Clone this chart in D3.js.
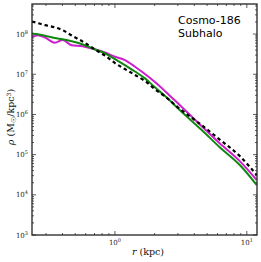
<!DOCTYPE html>
<html><head><meta charset="utf-8">
<script src="https://cdn.jsdelivr.net/npm/d3@7"></script>
<style>body{margin:0;background:#fff}svg{display:block}</style>
</head><body>
<script>
const radius = [0.235,0.26,0.295,0.35,0.40,0.47,0.57,0.70,0.84,1.0,1.19,1.42,1.69,2.0,2.4,3.1,4.55,6.2,8.85,11.9];
const rhoGreen = [1.04e8,9.9e7,9.1e7,8.0e7,7.4e7,6.6e7,5.5e7,4.2e7,3.3e7,2.39e7,1.69e7,1.17e7,7.9e6,4.8e6,2.87e6,1.29e6,4.1e5,1.55e5,5.5e4,1.75e4];
const rhoMagenta = [8.4e7,9.4e7,8.2e7,6.1e7,7.1e7,5.3e7,5.0e7,4.2e7,3.47e7,2.72e7,2.25e7,1.54e7,1.01e7,6.5e6,3.8e6,1.71e6,5.1e5,1.94e5,6.9e4,2.33e4];
const rhoDashed = [2.05e8,1.88e8,1.67e8,1.48e8,1.26e8,9.2e7,6.5e7,4.2e7,2.92e7,1.90e7,1.35e7,9.6e6,6.8e6,4.3e6,2.8e6,1.38e6,5.4e5,2.4e5,9.2e4,3.1e4];
const xTickExps = [0,1];
const yTickExps = [3,4,5,6,7,8];
const labelText = ["Cosmo-186","Subhalo"];

const W=261,H=262;
const L=32,R=257,T=4,B=235;
const svg=d3.select("body").append("svg").attr("width",W).attr("height",H);
const x=d3.scaleLog().domain([0.235,11.95]).range([L,R]);
const y=d3.scaleLog().domain([1e3,5.6e8]).range([B,T]);

const g=svg.append("g");
svg.append("clipPath").attr("id","c").append("rect").attr("x",L).attr("y",T).attr("width",R-L).attr("height",B-T);

// ticks
const xMajor=xTickExps.map(e=>Math.pow(10,e));
const xMinor=[];
for(let e=-1;e<=1;e++)for(let m=2;m<=9;m++){const v=m*Math.pow(10,e);if(v>=0.235&&v<=11.95)xMinor.push(v);}
const yMajor=yTickExps.map(e=>Math.pow(10,e));
const yMinor=[];
for(let e=3;e<=8;e++)for(let m=2;m<=9;m++){const v=m*Math.pow(10,e);if(v<=5.6e8)yMinor.push(v);}
const tk=g.append("g").attr("stroke","#333").attr("stroke-width",0.8);
function xt(v,len){tk.append("line").attr("x1",x(v)).attr("x2",x(v)).attr("y1",B).attr("y2",B-len);
  tk.append("line").attr("x1",x(v)).attr("x2",x(v)).attr("y1",T).attr("y2",T+len);}
function yt(v,len){tk.append("line").attr("y1",y(v)).attr("y2",y(v)).attr("x1",L).attr("x2",L+len);
  tk.append("line").attr("y1",y(v)).attr("y2",y(v)).attr("x1",R).attr("x2",R-len);}
xMajor.forEach(v=>xt(v,4)); xMinor.forEach(v=>xt(v,2));
yMajor.forEach(v=>yt(v,4)); yMinor.forEach(v=>yt(v,2));

// tick labels
const lab=g.append("g").attr("font-family","'DejaVu Serif',serif").attr("fill","#222");
xTickExps.forEach(e=>{
  const t=lab.append("text").attr("x",x(Math.pow(10,e))).attr("y",B+10).attr("text-anchor","middle").attr("font-size",7);
  t.append("tspan").text("10");
  t.append("tspan").attr("dy",-3).attr("font-size",5).text(e);
});
yTickExps.forEach(e=>{
  const t=lab.append("text").attr("x",L-4).attr("y",y(Math.pow(10,e))+2.5).attr("text-anchor","end").attr("font-size",7);
  t.append("tspan").text("10");
  t.append("tspan").attr("dy",-3).attr("font-size",5).text(e);
});

// curves
const line=d3.line().x((d,i)=>x(radius[i])).y(d=>y(d)).curve(d3.curveMonotoneX);
const cg=g.append("g").attr("clip-path","url(#c)").attr("fill","none");
cg.append("path").attr("d",line(rhoMagenta)).attr("stroke","#cc1ecc").attr("stroke-width",2);
cg.append("path").attr("d",line(rhoGreen)).attr("stroke","#108810").attr("stroke-width",2);
cg.append("path").attr("d",line(rhoDashed)).attr("stroke","#000").attr("stroke-width",2.2).attr("stroke-dasharray","3.5,3");

// frame
g.append("rect").attr("x",L).attr("y",T).attr("width",R-L).attr("height",B-T).attr("fill","none").attr("stroke","#222").attr("stroke-width",1.3);

// annotation
labelText.forEach((s,i)=>{
  g.append("text").attr("x",178).attr("y",24+i*12.5).attr("font-family","'DejaVu Sans',sans-serif").attr("font-size",11).attr("fill","#000").text(s);
});

// axis labels
const xl=g.append("text").attr("x",148).attr("y",255).attr("text-anchor","middle").attr("font-family","'DejaVu Serif',serif").attr("font-size",9.5).attr("fill","#111");
xl.append("tspan").attr("font-style","italic").text("r");
xl.append("tspan").text(" (kpc)");
const yl=g.append("text").attr("transform","translate(14,117) rotate(-90)").attr("text-anchor","middle").attr("font-family","'DejaVu Serif',serif").attr("font-size",9.5).attr("fill","#111");
yl.append("tspan").attr("font-style","italic").text("ρ");
yl.append("tspan").text(" (M");
yl.append("tspan").attr("font-family","'DejaVu Sans',sans-serif").attr("font-size",7).attr("dy",2).text("☉");
yl.append("tspan").attr("dy",-2).text("/kpc");
yl.append("tspan").attr("font-size",6).attr("dy",-3.5).text("3");
yl.append("tspan").attr("dy",3.5).text(")");
</script>
</body></html>
